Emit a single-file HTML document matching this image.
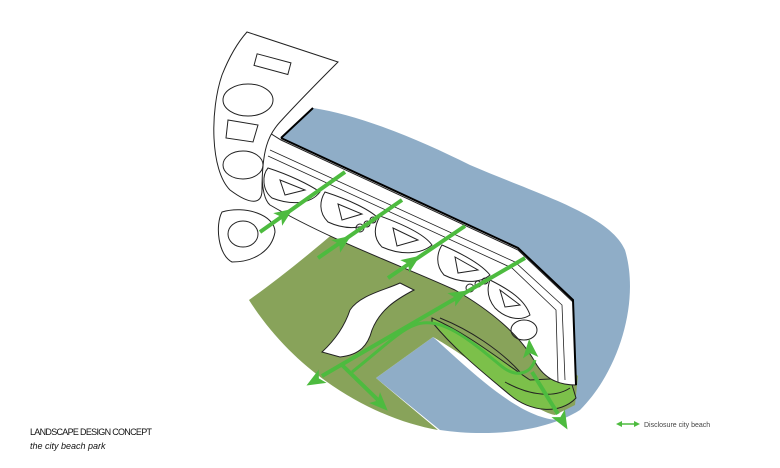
<!DOCTYPE html>
<html><head><meta charset="utf-8"><style>
html,body{margin:0;padding:0;background:#fff;width:780px;height:468px;overflow:hidden}
svg{display:block}
text{font-family:"Liberation Sans",sans-serif}
</style></head><body>
<svg width="780" height="468" viewBox="0 0 780 468" xmlns="http://www.w3.org/2000/svg">
<defs>
<path id="hd" d="M10,0 L-7,-7 L-3,0 L-7,7 Z" fill="#4dbb3f"/>
</defs>
<!-- water -->
<path d="M281,138 L313,108 C360,115 420,140 470,165 C540,195 610,215 625,250 C640,300 620,370 580,410 C540,435 480,436 440,430 L376,378 L433,337 C470,370 520,420 560,420 L576,385 L573,300 L518,248 Z" fill="#8fadc7"/>
<!-- green land -->
<path d="M249,300 C270,285 300,262 335,232 L460,275 C500,300 520,330 540,345 L578,376 L575,405 L555,415 C530,410 490,370 433,337 L376,378 L438,430 C380,420 300,380 249,300 Z" fill="#88a35a"/>
<!-- bright green strip -->
<path d="M432,318 C470,335 500,360 530,380 L570,378 L576,398 C560,415 530,412 510,395 C480,370 455,350 432,322 Z" fill="#7cc04a" stroke="#222" stroke-width="1"/>
<path d="M440,318 C470,330 500,350 520,372" fill="none" stroke="#222" stroke-width="1"/>
<path d="M505,382 C530,396 555,398 570,388" fill="none" stroke="#222" stroke-width="1"/>
<!-- white cutout in green -->
<path d="M400,283 L414,290 C395,300 380,310 372,330 C368,345 360,355 340,357 L322,352 C335,340 345,325 350,310 C360,295 385,290 400,283 Z" fill="#fff" stroke="#222" stroke-width="1"/>
<!-- promenade -->
<path d="M265,130 L281,140 L518,250 L573,302 L576,385 C560,385 545,380 535,362 C520,335 490,310 455,290 C400,265 330,240 270,205 C258,195 262,150 265,130 Z" fill="#fff" stroke="#222" stroke-width="1"/>
<path d="M270,150 L515,262 L562,305 L565,380" fill="none" stroke="#222" stroke-width="0.8"/>
<path d="M268,156 L512,268 L556,310 L558,382" fill="none" stroke="#222" stroke-width="0.8"/>
<path d="M281,138 L313,108 M281,138 L518,248 L573,300 L576,385" fill="none" stroke="#000" stroke-width="2"/>
<!-- upper-left block -->
<path d="M247,32 L338,62 C320,80 300,100 280,122 C268,135 262,150 262,190 C262,205 250,205 230,190 C210,170 210,110 222,75 C230,55 238,42 247,32 Z" fill="#fff" stroke="#222" stroke-width="1"/>
<rect x="255" y="58" width="35" height="12" transform="rotate(15 272 64)" fill="none" stroke="#222"/>
<ellipse cx="248" cy="100" rx="25" ry="16" fill="none" stroke="#222"/>
<path d="M228,120 L258,125 L253,142 L226,138 Z" fill="none" stroke="#222"/>
<ellipse cx="243" cy="165" rx="20" ry="14" fill="none" stroke="#222"/>
<!-- left blob -->
<path d="M222,212 C245,205 275,215 275,232 C272,250 255,262 232,262 C218,255 215,225 222,212 Z" fill="#fff" stroke="#222"/>
<ellipse cx="243" cy="234" rx="15" ry="13" fill="none" stroke="#222"/>
<!-- V shapes -->
<g fill="none" stroke="#222" stroke-width="1">
<path d="M268,168 C290,175 310,185 320,192 C310,205 290,205 272,198 C262,190 262,175 268,168 Z"/><path d="M280,180 L305,190 L285,195 Z"/>
<path d="M325,192 C350,200 370,210 378,218 C365,230 345,230 328,222 C318,212 320,200 325,192 Z"/><path d="M338,204 L362,214 L342,220 Z"/>
<path d="M380,216 C405,225 425,235 432,245 C420,255 400,255 382,247 C372,237 375,225 380,216 Z"/><path d="M393,228 L418,240 L397,246 Z"/>
<path d="M442,245 C465,255 482,265 490,275 C478,285 458,282 444,275 C435,265 437,253 442,245 Z"/><path d="M455,257 L478,270 L458,273 Z"/>
<path d="M490,280 C510,290 525,300 530,315 C520,322 505,318 495,308 C487,298 487,288 490,280 Z"/><path d="M500,290 L520,305 L505,307 Z"/>
<ellipse cx="524" cy="330" rx="13" ry="10"/>
<circle cx="360" cy="228" r="4"/><circle cx="367" cy="224" r="3"/><circle cx="373" cy="220" r="3"/>
<circle cx="470" cy="288" r="4"/><circle cx="478" cy="284" r="3"/><circle cx="485" cy="281" r="3"/>
</g>
<!-- green arrows -->
<g stroke="#4dbb3f" stroke-width="4" fill="none">
<line x1="260" y1="232" x2="345" y2="172"/>
<line x1="318" y1="258" x2="402" y2="200"/>
<line x1="388" y1="278" x2="465" y2="226"/>
<line x1="322" y1="376" x2="525" y2="258"/>
<line x1="342" y1="365" x2="378" y2="400"/>
<path d="M352,372 C380,350 400,330 415,325 C440,315 470,340 500,365 C515,378 530,375 535,360" stroke-width="3"/>
<line x1="532" y1="372" x2="558" y2="414"/>
</g>
<g>
<use href="#hd" transform="translate(284,215) rotate(-35) scale(1.1)"/>
<use href="#hd" transform="translate(342,242) rotate(-35) scale(1.1)"/>
<use href="#hd" transform="translate(411,262) rotate(-35) scale(1.1)"/>
<use href="#hd" transform="translate(458,296) rotate(-30) scale(1.1)"/>
<use href="#hd" transform="translate(316,380) rotate(150) scale(1.1)"/>
<use href="#hd" transform="translate(380,403) rotate(45) scale(1.1)"/>
<use href="#hd" transform="translate(530,350) rotate(-95) scale(1.1)"/>
<use href="#hd" transform="translate(562,420) rotate(60) scale(1.1)"/>
</g>
<!-- legend -->
<line x1="621" y1="424" x2="635" y2="424" stroke="#4dbb3f" stroke-width="1.5"/>
<path d="M616,424 L622,421 L622,427 Z M640,424 L634,421 L634,427 Z" fill="#4dbb3f"/>
<text x="644" y="427" font-size="7" fill="#444">Disclosure city beach</text>
<text x="30" y="435" font-size="9" fill="#111" textLength="122">LANDSCAPE DESIGN CONCEPT</text>
<text x="30" y="449" font-size="9" font-style="italic" fill="#111">the city beach park</text>
</svg>
</body></html>
